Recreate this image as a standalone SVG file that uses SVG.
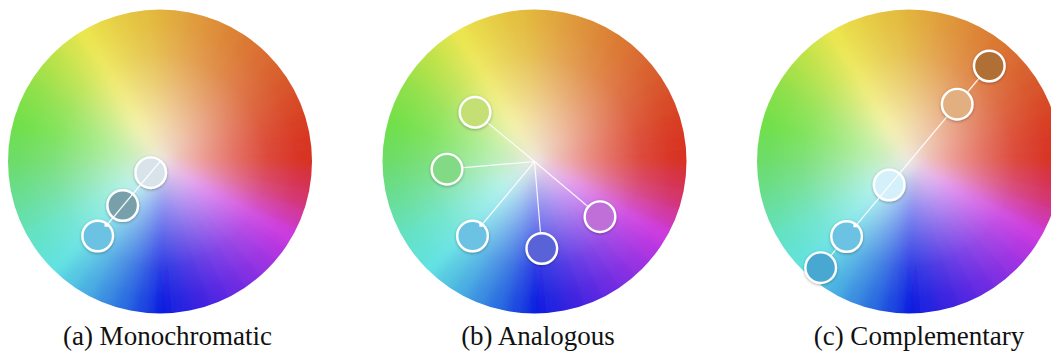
<svg xmlns="http://www.w3.org/2000/svg" xmlns:xlink="http://www.w3.org/1999/xlink" width="1051" height="353" viewBox="0 0 1051 353">
<style>
.sw{stroke:#fff;stroke-width:2.4;filter:url(#sh)}
.ln{stroke:#fff;stroke-width:1.2;fill:none;stroke-opacity:0.9}
.notch{fill:#fff}
.lbl{font-family:"Liberation Serif","Times New Roman",serif;font-size:27px;fill:#111;text-anchor:middle}
</style>
<defs>
<filter id="sh" x="-40%" y="-40%" width="180%" height="180%"><feDropShadow dx="0" dy="1" stdDeviation="1.5" flood-color="#000" flood-opacity="0.3"/></filter>
<filter id="soft" x="-20%" y="-20%" width="140%" height="140%"><feGaussianBlur stdDeviation="6"/></filter>
<clipPath id="disc"><circle cx="0" cy="0" r="152"/></clipPath>
<radialGradient id="wash" cx="50%" cy="50%" r="50%">
<stop offset="0" stop-color="#efebe6" stop-opacity="0.9"/>
<stop offset="0.15" stop-color="#f6f3ef" stop-opacity="0.7"/>
<stop offset="0.3" stop-color="#fff" stop-opacity="0.5"/>
<stop offset="0.5" stop-color="#fff" stop-opacity="0.3"/>
<stop offset="0.7" stop-color="#fff" stop-opacity="0.12"/>
<stop offset="0.9" stop-color="#fff" stop-opacity="0.02"/>
<stop offset="1" stop-color="#fff" stop-opacity="0"/>
</radialGradient>
<path id="w" d="M0 0L-13.1 -178L13.1 -178Z"/>
<g id="wheel">
<g clip-path="url(#disc)">
<g filter="url(#soft)">
<use href="#w" fill="#e2b43e" transform="rotate(0)"/>
<use href="#w" fill="#e1a73c" transform="rotate(7.5)"/>
<use href="#w" fill="#e09a3a" transform="rotate(15)"/>
<use href="#w" fill="#de8e38" transform="rotate(22.5)"/>
<use href="#w" fill="#dc8236" transform="rotate(30)"/>
<use href="#w" fill="#db7733" transform="rotate(37.5)"/>
<use href="#w" fill="#da6c30" transform="rotate(45)"/>
<use href="#w" fill="#d9602e" transform="rotate(52.5)"/>
<use href="#w" fill="#d8542c" transform="rotate(60)"/>
<use href="#w" fill="#d84828" transform="rotate(67.5)"/>
<use href="#w" fill="#d83c24" transform="rotate(75)"/>
<use href="#w" fill="#d83622" transform="rotate(82.5)"/>
<use href="#w" fill="#d83020" transform="rotate(90)"/>
<use href="#w" fill="#d63346" transform="rotate(97.5)"/>
<use href="#w" fill="#d4366c" transform="rotate(105)"/>
<use href="#w" fill="#d038a6" transform="rotate(112.5)"/>
<use href="#w" fill="#cc3ae0" transform="rotate(120)"/>
<use href="#w" fill="#b336e1" transform="rotate(127.5)"/>
<use href="#w" fill="#9a32e2" transform="rotate(135)"/>
<use href="#w" fill="#822ee2" transform="rotate(142.5)"/>
<use href="#w" fill="#6a2ae2" transform="rotate(150)"/>
<use href="#w" fill="#5227e1" transform="rotate(157.5)"/>
<use href="#w" fill="#3a24e0" transform="rotate(165)"/>
<use href="#w" fill="#2321e0" transform="rotate(172.5)"/>
<use href="#w" fill="#0c1ee0" transform="rotate(180)"/>
<use href="#w" fill="#1b46e0" transform="rotate(187.5)"/>
<use href="#w" fill="#2a6ee0" transform="rotate(195)"/>
<use href="#w" fill="#3a8ee1" transform="rotate(202.5)"/>
<use href="#w" fill="#4aaee2" transform="rotate(210)"/>
<use href="#w" fill="#56c8e2" transform="rotate(217.5)"/>
<use href="#w" fill="#62e2e2" transform="rotate(225)"/>
<use href="#w" fill="#63e2d3" transform="rotate(232.5)"/>
<use href="#w" fill="#64e2c4" transform="rotate(240)"/>
<use href="#w" fill="#66e0ad" transform="rotate(247.5)"/>
<use href="#w" fill="#68de96" transform="rotate(255)"/>
<use href="#w" fill="#6add80" transform="rotate(262.5)"/>
<use href="#w" fill="#6cdc6a" transform="rotate(270)"/>
<use href="#w" fill="#6ede5a" transform="rotate(277.5)"/>
<use href="#w" fill="#70e04a" transform="rotate(285)"/>
<use href="#w" fill="#7fe04a" transform="rotate(292.5)"/>
<use href="#w" fill="#8ee04a" transform="rotate(300)"/>
<use href="#w" fill="#a5e14a" transform="rotate(307.5)"/>
<use href="#w" fill="#bce24a" transform="rotate(315)"/>
<use href="#w" fill="#d4e44d" transform="rotate(322.5)"/>
<use href="#w" fill="#ece650" transform="rotate(330)"/>
<use href="#w" fill="#e9d94a" transform="rotate(337.5)"/>
<use href="#w" fill="#e6cc44" transform="rotate(345)"/>
<use href="#w" fill="#e4c041" transform="rotate(352.5)"/>
</g>
</g>
<circle cx="0" cy="0" r="152" fill="url(#wash)"/>
</g>
</defs>

<g id="wheel-a"><use href="#wheel" x="160" y="161.5"/></g>
<g id="wheel-b"><use href="#wheel" x="534.5" y="161.5"/></g>
<g id="wheel-c"><use href="#wheel" x="909" y="161.5"/></g>

<!-- (a) Monochromatic -->
<g id="a-swatch-1"><circle class="sw" cx="150.7" cy="172.7" r="15.3" fill="#d8e4ea"/></g>
<g id="a-swatch-2"><circle class="sw" cx="122.7" cy="205.5" r="15.3" fill="#78a0aa"/></g>

<g id="connectors">
<line class="ln" x1="160" y1="161.5" x2="97.7" y2="236"/>
<line class="ln" x1="534.5" y1="161.5" x2="475" y2="112.3"/>
<line class="ln" x1="534.5" y1="161.5" x2="447" y2="169.2"/>
<line class="ln" x1="534.5" y1="161.5" x2="472.5" y2="236"/>
<line class="ln" x1="534.5" y1="161.5" x2="541.8" y2="248.5"/>
<line class="ln" x1="534.5" y1="161.5" x2="600" y2="216.7"/>
</g>

<g id="a-swatch-3"><circle class="sw" cx="97.7" cy="236" r="15.3" fill="#6cc2e2"/><polygon class="notch" points="104.5,221.8 110.5,226.8 104.5,226.8"/></g>

<!-- (b) Analogous -->
<g id="b-swatch-1"><circle class="sw" cx="475" cy="112.3" r="15.3" fill="#c4e074"/></g>
<g id="b-swatch-2"><circle class="sw" cx="447" cy="169.2" r="15.3" fill="#82da84"/></g>
<g id="b-swatch-3"><circle class="sw" cx="472.5" cy="236" r="15.3" fill="#6cc2e2"/><polygon class="notch" points="479.3,221.8 485.3,226.8 479.3,226.8"/></g>
<g id="b-swatch-4"><circle class="sw" cx="541.8" cy="248.5" r="15.3" fill="#5a62d8"/></g>
<g id="b-swatch-5"><circle class="sw" cx="600" cy="216.7" r="15.3" fill="#c06ed8"/></g>

<!-- (c) Complementary -->
<g id="c-swatch-3"><circle class="sw" cx="889.2" cy="185" r="15.3" fill="#d4f0fa"/></g>
<g id="c-connectors"><line class="ln" x1="989.3" y1="66" x2="820.7" y2="267.7"/></g>
<g id="c-swatch-1"><circle class="sw" cx="989.3" cy="66" r="15.3" fill="#b07034"/></g>
<g id="c-swatch-2"><circle class="sw" cx="957.2" cy="104.2" r="15.3" fill="#e2b080"/></g>
<g id="c-swatch-4"><circle class="sw" cx="846.6" cy="236.5" r="15.3" fill="#6cc2e2"/><polygon class="notch" points="853.4,222.3 859.4,227.3 853.4,227.3"/></g>
<g id="c-swatch-5"><circle class="sw" cx="820.7" cy="267.7" r="15.3" fill="#4aa8d2"/></g>

<g id="labels">
<text class="lbl" x="167.5" y="345" font-family="Liberation Serif, serif">(a) Monochromatic</text>
<text class="lbl" x="538" y="345" font-family="Liberation Serif, serif">(b) Analogous</text>
<text class="lbl" x="919" y="345" font-family="Liberation Serif, serif">(c) Complementary</text>
</g>
</svg>
